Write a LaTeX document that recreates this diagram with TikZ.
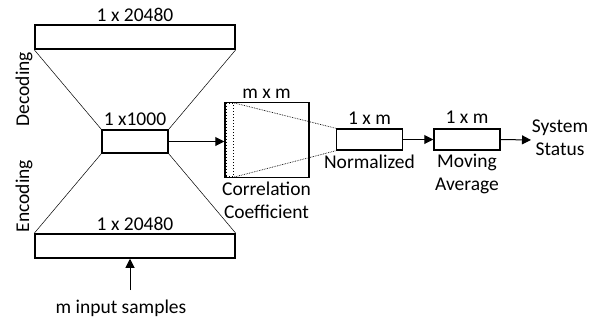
\documentclass[tikz,border=0pt]{standalone}
\usepackage{fontspec}
\setmainfont{Carlito}
\usetikzlibrary{arrows.meta}
\begin{document}
\begin{tikzpicture}[x=1pt,y=-1pt,
  box/.style={draw,line width=1.5pt,inner sep=0pt},
  lbl/.style={font=\fontsize{19.5}{23}\selectfont,inner sep=0pt,anchor=base},
  thin/.style={line width=0.5pt},
  arr/.style={line width=1pt,-{Triangle[length=9pt,width=9pt]}}]
\useasboundingbox (0,0) rectangle (601,322);
% boxes
\node[box,minimum width=200pt,minimum height=24pt] (top) at (135,37) {};
\node[box,minimum width=66pt,minimum height=23pt] (mid) at (135,141.5) {};
\node[box,minimum width=200pt,minimum height=24pt] (bot) at (135,246) {};
\node[box,minimum width=84pt,minimum height=75pt] (sq) at (267,140) {};
\node[draw,dotted,line width=1pt,minimum width=7.5pt,minimum height=73pt,inner sep=0pt,anchor=west] (dot) at (225.8,140) {};
\node[box,minimum width=66pt,minimum height=21pt] (norm) at (369.5,139.5) {};
\node[box,minimum width=66pt,minimum height=21pt] (ma) at (467,139.5) {};
% labels (multi-line nodes: base anchor = last line)
\node[lbl] (ltop) at (135,21) {1 x 20480};
\node[lbl] (lmid) at (135,125) {1 x1000};
\node[lbl] (lbot) at (135,230) {1 x 20480};
\node[lbl] (lsq) at (266.5,98) {m x m};
\node[lbl] (lnorm) at (369.5,124) {1 x m};
\node[lbl] (lma) at (467,123) {1 x m};
\node[lbl,align=center] (lcc) at (266.5,218) {Correlation\\Coefficient};
\node[lbl] (lnormb) at (369.5,168) {Normalized};
\node[lbl,align=center] (lmab) at (467,190) {Moving\\Average};
\node[lbl,align=center] (sys) at (560,155) {System\\Status};
\node[lbl,rotate=90] (dec) at (29,89) {Decoding};
\node[lbl,rotate=90] (enc) at (29,196) {Encoding};
\node[lbl] (inp) at (121,313) {m input samples};
\coordinate (src) at (130,290);
\coordinate (sysin) at (531,140);
% funnel lines
\draw[thin] (top.south west) -- (mid.north west);
\draw[thin] (top.south east) -- (mid.north east);
\draw[thin] (mid.south west) -- (bot.north west);
\draw[thin] (mid.south east) -- (bot.north east);
\draw[line width=0.7pt,densely dotted] (dot.north east) -- (norm.north west);
\draw[line width=0.7pt,densely dotted] (dot.south east) -- (norm.south west);
% arrows
\draw[arr] (src) -- (src|-bot.south);
\draw[arr] (mid.east) -- (mid.east-|sq.west);
\draw[arr] (norm.east) -- (ma.west);
\draw[arr] (ma.east) -- (sysin);
\end{tikzpicture}
\end{document}
